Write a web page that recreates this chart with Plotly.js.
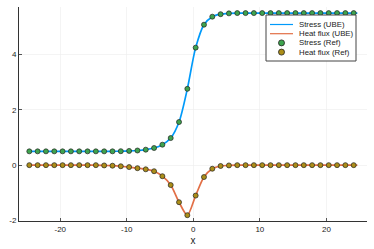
<!DOCTYPE html>
<html><head><meta charset="utf-8">
<script src="https://cdn.plot.ly/plotly-3.0.1.min.js"></script>
<style>html,body{margin:0;padding:0;background:#fff}</style>
</head><body><div id="chart" style="width:374px;height:249px"></div>
<script>
const xRef = [-24.65,-23.4,-22.15,-20.9,-19.65,-18.4,-17.15,-15.9,-14.65,-13.4,-12.15,-10.9,-9.65,-8.4,-7.15,-5.9,-4.65,-3.4,-2.15,-0.9,0.35,1.6,2.85,4.1,5.35,6.6,7.85,9.1,10.35,11.6,12.85,14.1,15.35,16.6,17.85,19.1,20.35,21.6,22.85,24.1];
const stressRef = [0.5,0.5,0.5,0.5,0.5,0.5,0.5,0.5,0.5,0.5,0.5,0.505,0.515,0.53,0.56,0.62,0.74,0.98,1.56,2.76,4.25,5.08,5.37,5.46,5.49,5.5,5.5,5.5,5.5,5.5,5.5,5.5,5.5,5.5,5.5,5.5,5.5,5.5,5.5,5.5];
const heatRef = [0,0,0,0,0,0,0,0,0,-0.01,-0.02,-0.04,-0.07,-0.11,-0.15,-0.22,-0.40,-0.72,-1.34,-1.81,-1.10,-0.43,-0.13,-0.03,-0.01,0,0,0,0,0,0,0,0,0,0,0,0,0,0,0];
const xUBE = xRef.concat([24.65]);
const stressUBE = stressRef.concat([5.5]);
const heatUBE = heatRef.concat([0]);
const seriesNames = ['Stress (UBE)', 'Heat flux (UBE)', 'Stress (Ref)', 'Heat flux (Ref)'];
const seriesColors = ['#009AFA', '#E26F46', '#3EA44E', '#AC8E18'];

const traces = [
  {x: xUBE, y: stressUBE, mode: 'lines', name: seriesNames[0], line: {color: seriesColors[0], width: 1.7, shape: 'spline', smoothing: 0.8}},
  {x: xUBE, y: heatUBE, mode: 'lines', name: seriesNames[1], line: {color: seriesColors[1], width: 1.7, shape: 'spline', smoothing: 0.8}},
  {x: xRef, y: stressRef, mode: 'markers', name: seriesNames[2], marker: {color: seriesColors[2], size: 5, line: {color: '#222', width: 0.7}}},
  {x: xRef, y: heatRef, mode: 'markers', name: seriesNames[3], marker: {color: seriesColors[3], size: 5, line: {color: '#222', width: 0.7}}}
];
const W = 374, H = 249, M = {l: 19, r: 7, t: 7, b: 28};
const pw = W - M.l - M.r, ph = H - M.t - M.b;
const px = v => (v - M.l) / pw;
const py = v => (H - M.b - v) / ph;
const font = {family: 'Liberation Sans, Arial, sans-serif', size: 8, color: '#222'};

// custom compact legend (GR style)
const shapes = [{type: 'rect', xref: 'paper', yref: 'paper', x0: px(266), x1: px(356), y0: py(61), y1: py(15), fillcolor: '#fff', line: {color: '#444', width: 1}, layer: 'above'}];
const annotations = [];
const rowY = [24.5, 33.7, 42.9, 52.1];
seriesNames.forEach((nm, i) => {
  const yy = rowY[i];
  if (i < 2) {
    shapes.push({type: 'line', xref: 'paper', yref: 'paper', x0: px(270), x1: px(293), y0: py(yy), y1: py(yy), line: {color: seriesColors[i], width: 1.2}, layer: 'above'});
  } else {
    const r = 3;
    shapes.push({type: 'circle', xref: 'paper', yref: 'paper', x0: px(281.5 - r), x1: px(281.5 + r), y0: py(yy + r), y1: py(yy - r), fillcolor: seriesColors[i], line: {color: '#222', width: 0.8}, layer: 'above'});
  }
  annotations.push({xref: 'paper', yref: 'paper', x: px(296.5), y: py(yy), xanchor: 'left', yanchor: 'middle', text: nm, showarrow: false, font: {family: font.family, size: 7.8, color: '#222'}});
});

const layout = {
  width: W, height: H,
  margin: M,
  paper_bgcolor: '#fff', plot_bgcolor: '#fff',
  font: font,
  showlegend: false,
  shapes: shapes, annotations: annotations,
  xaxis: {range: [-26.2, 26.1], tickvals: [-20,-10,0,10,20], ticktext: ['-20','-10','0','10','20'], showgrid: true, gridcolor: '#ececec', gridwidth: 0.6, zeroline: false, showline: true, linecolor: '#333', linewidth: 1, ticks: 'inside', ticklen: 3, tickcolor: '#555', title: {text: 'x', font: {family: font.family, size: 10, color: '#222'}, standoff: 4}},
  yaxis: {range: [-2.02, 5.72], tickvals: [-2,0,2,4], ticktext: ['-2','0','2','4'], showgrid: true, gridcolor: '#ececec', gridwidth: 0.6, zeroline: false, showline: true, linecolor: '#333', linewidth: 1, ticks: 'inside', ticklen: 3, tickcolor: '#555'}
};
Plotly.newPlot('chart', traces, layout, {displayModeBar: false, staticPlot: true});
</script></body></html>
